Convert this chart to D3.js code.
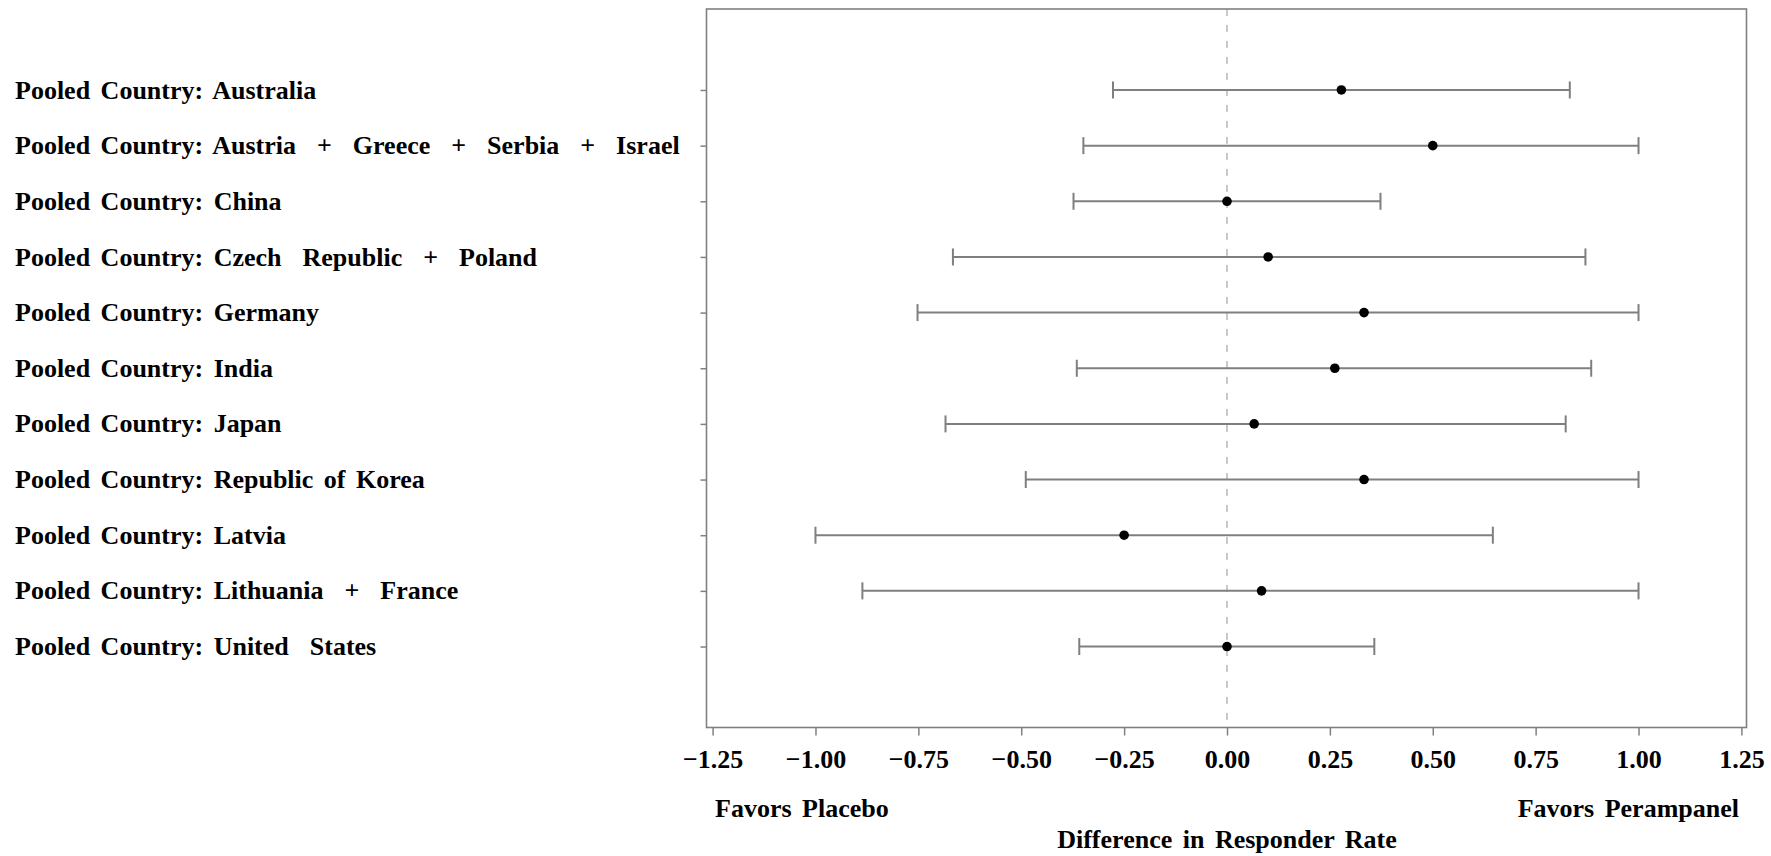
<!DOCTYPE html>
<html>
<head>
<meta charset="utf-8">
<script src="https://cdn.jsdelivr.net/npm/d3@7"></script>
<style>
  html, body { margin: 0; padding: 0; background: #fff; }
  svg { display: block; }
  text { font-family: "Liberation Serif", "DejaVu Serif", serif; font-weight: bold; fill: #000; }
</style>
</head>
<body>
<svg id="chart" width="1771" height="856"></svg>
<script>
// Pooled country groups (top to bottom)
const countries = [
  "Pooled Country: Australia",
  "Pooled Country: Austria  +  Greece  +  Serbia  +  Israel",
  "Pooled Country: China",
  "Pooled Country: Czech  Republic  +  Poland",
  "Pooled Country: Germany",
  "Pooled Country: India",
  "Pooled Country: Japan",
  "Pooled Country: Republic of Korea",
  "Pooled Country: Latvia",
  "Pooled Country: Lithuania  +  France",
  "Pooled Country: United  States"
];
// Difference in responder rate (Perampanel - Placebo) with 95% CI
const estimate = [0.278, 0.500, 0.000, 0.100, 0.333, 0.262, 0.066, 0.333, -0.250, 0.084, 0.000];
const lower    = [-0.277, -0.349, -0.373, -0.666, -0.752, -0.365, -0.684, -0.489, -1.000, -0.886, -0.359];
const upper    = [0.833, 1.000, 0.373, 0.871, 1.000, 0.885, 0.823, 1.000, 0.646, 1.000, 0.358];
const xTicks   = [-1.25, -1.00, -0.75, -0.50, -0.25, 0.00, 0.25, 0.50, 0.75, 1.00, 1.25];

const svg = d3.select("#chart");
const frame = { left: 706.5, right: 1746.5, top: 9, bottom: 727.5 };

const x = d3.scaleLinear().domain([-1.25, 1.25]).range([712.6, 1741.4]);
const y = d3.scalePoint().domain(countries).range([frame.top, frame.bottom]).padding(1.455);

const rows = countries.map((c, i) => ({ c, est: estimate[i], lo: lower[i], hi: upper[i] }));

// Reference line at zero difference
svg.append("line")
  .attr("x1", x(0)).attr("x2", x(0))
  .attr("y1", frame.top).attr("y2", frame.bottom)
  .attr("stroke", "#b8b8b8").attr("stroke-width", 1.5)
  .attr("stroke-dasharray", "7,9");

// Confidence intervals
const g = svg.append("g");
g.selectAll("line.ci").data(rows).join("line")
  .attr("class", "ci")
  .attr("x1", d => x(d.lo)).attr("x2", d => x(d.hi))
  .attr("y1", d => y(d.c)).attr("y2", d => y(d.c))
  .attr("stroke", "#7f7f7f").attr("stroke-width", 2);
["lo", "hi"].forEach(k => {
  g.selectAll("line.cap-" + k).data(rows).join("line")
    .attr("class", "cap-" + k)
    .attr("x1", d => x(d[k])).attr("x2", d => x(d[k]))
    .attr("y1", d => y(d.c) - 8.5).attr("y2", d => y(d.c) + 8.5)
    .attr("stroke", "#7f7f7f").attr("stroke-width", 2);
});
g.selectAll("circle").data(rows).join("circle")
  .attr("cx", d => x(d.est)).attr("cy", d => y(d.c))
  .attr("r", 4.8).attr("fill", "#000");

// Plot frame
svg.append("rect")
  .attr("x", frame.left).attr("y", frame.top)
  .attr("width", frame.right - frame.left).attr("height", frame.bottom - frame.top)
  .attr("fill", "none").attr("stroke", "#808080").attr("stroke-width", 1.6);

// Y axis ticks and category labels
const yAxis = svg.append("g").attr("transform", `translate(${frame.left},0)`)
  .call(d3.axisLeft(y).tickSize(6).tickFormat(""));
yAxis.select(".domain").remove();
yAxis.selectAll(".tick line").attr("stroke", "#808080").attr("stroke-width", 1.5);

svg.append("g").selectAll("text").data(countries).join("text")
  .attr("x", 15).attr("y", d => y(d)).attr("dy", "0.33em")
  .attr("font-size", 26).attr("word-spacing", 4)
  .attr("xml:space", "preserve").style("white-space", "pre")
  .text(d => d);

// X axis
const xAxis = svg.append("g").attr("transform", `translate(0,${frame.bottom})`)
  .call(d3.axisBottom(x).tickValues(xTicks).tickSize(8).tickFormat(d3.format(".2f")));
xAxis.select(".domain").remove();
xAxis.selectAll(".tick line").attr("stroke", "#808080").attr("stroke-width", 1.5);
xAxis.selectAll(".tick text")
  .attr("y", 40.5).attr("dy", 0)
  .attr("font-size", 26)
  .style("font-family", "'Liberation Serif', serif").style("font-weight", "bold")
  .attr("fill", "#000");

// Direction labels and axis title
svg.append("text").attr("x", 715).attr("y", 817)
  .attr("font-size", 26).attr("word-spacing", 4).text("Favors Placebo");
svg.append("text").attr("x", 1739).attr("y", 817).attr("text-anchor", "end")
  .attr("font-size", 26).attr("word-spacing", 4).text("Favors Perampanel");
svg.append("text").attr("x", x(0)).attr("y", 848).attr("text-anchor", "middle")
  .attr("font-size", 26).attr("word-spacing", 4).text("Difference in Responder Rate");
</script>
</body>
</html>
